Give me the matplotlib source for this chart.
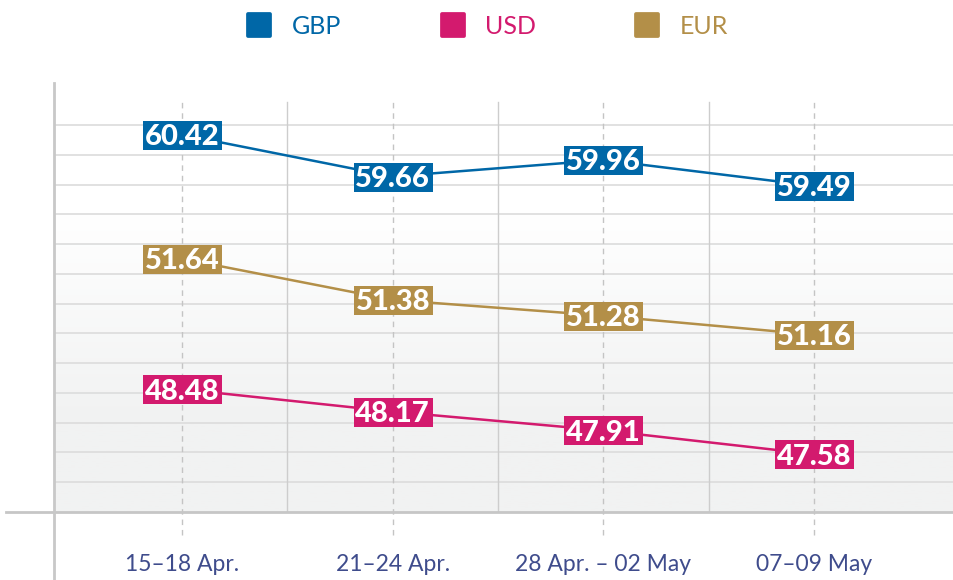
import matplotlib
matplotlib.use('Agg')
import matplotlib.pyplot as plt
import numpy as np
from matplotlib.path import Path
from matplotlib.markers import MarkerStyle
from matplotlib.lines import Line2D
from matplotlib.colors import LinearSegmentedColormap
from matplotlib.transforms import ScaledTranslation

# data
periods = ['15–18 Apr.', '21–24 Apr.', '28 Apr. – 02 May', '07–09 May']
gbp = [60.42, 59.66, 59.96, 59.49]
usd = [48.48, 48.17, 47.91, 47.58]
eur = [51.64, 51.38, 51.28, 51.16]

names = ['GBP', 'USD', 'EUR']
colors = ['#0067a7', '#d31a6e', '#b38f48']
# each series sits in its own band of the chart
ylims = [(53.56, 61.36), (46.78, 52.72), (50.04, 52.75)]

W, H = 954, 580
fig = plt.figure(figsize=(W / 100, H / 100), dpi=100)
fig.patch.set_facecolor('white')

# plot area in pixels
left, right, top, bottom = 54, 954, 83, 512
cx0, step = 182, 210.7
row = 29.77
rect = [left / W, 1 - bottom / H, (right - left) / W, (bottom - top) / H]
xlim = ((left - cx0) / step, (right - cx0) / step)
ytop = (bottom - top) / row

def prow(py):
    return (bottom - py) / row

bg = fig.add_axes(rect)
bg.set_xlim(xlim)
bg.set_ylim(0, ytop)
for s in bg.spines.values():
    s.set_visible(False)

# soft gradient background
cmap = LinearSegmentedColormap.from_list('bgfade', ['#f1f2f2', '#ffffff'])
g = np.clip((np.linspace(0, ytop, 200) - 3) / 7.0, 0, 1).reshape(-1, 1)
bg.imshow(g, extent=[xlim[0], xlim[1], 0, ytop], origin='lower', aspect='auto',
          cmap=cmap, vmin=0, vmax=1, zorder=0)

for k in range(1, 14):
    bg.axhline(k, color='#dedede', lw=1.3, zorder=1)
for xb in [0.5, 1.5, 2.5]:
    bg.plot([xb, xb], [0, prow(102)], color='#cdcdcd', lw=1.0, zorder=1)
for i in range(len(periods)):
    bg.plot([i, i], [prow(535), prow(102)], color='#c4c4c4', lw=1.0,
            ls=(0, (4, 3.5)), zorder=1, clip_on=False)
bg.plot([(6 - cx0) / step, xlim[1]], [0, 0], color='#c6c6c6', lw=2.0,
        clip_on=False, zorder=2)
bg.plot([xlim[0], xlim[0]], [prow(580), ytop], color='#c8c8c8', lw=2.0,
        clip_on=False, zorder=2)

bg.set_yticks([])
bg.set_xticks(range(len(periods)), periods)
bg.tick_params(axis='x', length=0, pad=30, labelsize=16.5, labelcolor='#3f4c8c')
for lab in bg.get_xticklabels():
    lab.set_fontfamily('Lato')
    lab.set_fontweight('normal')

# label box marker
bw, bh = 79, 29
verts = [(-bw / 2, -bh / 2), (bw / 2, -bh / 2), (bw / 2, bh / 2), (-bw / 2, bh / 2), (-bw / 2, -bh / 2)]
box = Path(verts, [Path.MOVETO, Path.LINETO, Path.LINETO, Path.LINETO, Path.CLOSEPOLY])
box_ms = bw * 0.72

x = np.arange(len(periods))
for vals, c, lim in zip([gbp, usd, eur], colors, ylims):
    ax = fig.add_axes(rect, facecolor='none')
    ax.set_xlim(xlim)
    ax.set_ylim(lim)
    ax.axis('off')
    ax.plot(x, vals, color=c, lw=1.8, zorder=3)
    ax.plot(x, vals, ls='none', marker=box, ms=box_ms, mew=0, color=c, zorder=4)
    off = ScaledTranslation(0, -0.104, fig.dpi_scale_trans)
    for xi, v in zip(x, vals):
        ax.text(xi, v, f'{v:.2f}', transform=ax.transData + off,
                ha='center', va='baseline', color='white', fontsize=21,
                fontfamily='Lato', fontweight='black', zorder=5)

handles = [Line2D([], [], ls='none', marker=MarkerStyle('s', joinstyle='round'),
                  ms=16, mew=2.7, color=c) for c in colors]
fig.legend(handles, names, loc='center', bbox_to_anchor=(487 / W, 1 - 26 / H),
           ncol=3, frameon=False, labelcolor=colors, handlelength=1.1,
           handletextpad=0.75, columnspacing=3.9,
           prop={'family': 'Lato', 'weight': 'normal', 'size': 18})

fig.savefig('out.png', dpi=100)
